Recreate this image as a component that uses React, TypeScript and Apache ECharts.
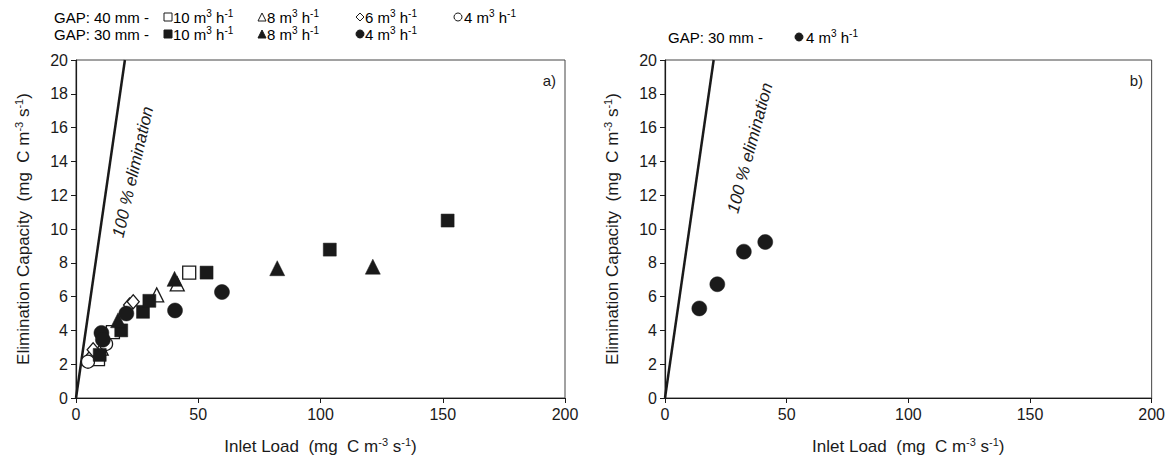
import React, { useEffect, useRef } from "react";
import * as echarts from "echarts";

// ---- data ----
const xTickValues = [0, 50, 100, 150, 200];
const yTickValues = [0, 2, 4, 6, 8, 10, 12, 14, 16, 18, 20];

const gap40Flow10 = [[9.0, 2.3], [15.1, 3.9], [46.3, 7.42]];
const gap40Flow8 = [[10.3, 2.95], [33.0, 6.1], [41.4, 6.75]];
const gap40Flow6 = [[5.6, 2.35], [7.0, 2.85], [21.9, 5.5], [23.4, 5.7]];
const gap40Flow4 = [[4.9, 2.15], [12.3, 3.2]];
const gap30Flow10 = [[9.7, 2.55], [18.5, 4.0], [27.4, 5.1], [30.0, 5.75], [53.4, 7.42], [103.8, 8.78], [152.0, 10.5]];
const gap30Flow8 = [[17.2, 4.6], [40.3, 7.05], [82.3, 7.68], [121.4, 7.77]];
const gap30Flow4 = [[10.4, 3.85], [11.0, 3.45], [20.6, 5.0], [40.5, 5.18], [59.7, 6.27]];
const panelBGap30Flow4 = [[14.1, 5.3], [21.5, 6.73], [32.4, 8.66], [41.2, 9.23]];
const fullEliminationLine = [[0, 0], [20, 20]];

const FONT = "'Liberation Sans', Arial, sans-serif";
const INK = "#1a1a1a";

const rich = {
  n: { fontSize: 17, fontFamily: FONT, color: INK, lineHeight: 20 },
  s: { fontSize: 11, fontFamily: FONT, color: INK, lineHeight: 11, verticalAlign: "top" as const },
};
const richSmall = {
  n: { fontSize: 15, fontFamily: FONT, color: INK, lineHeight: 17 },
  s: { fontSize: 10, fontFamily: FONT, color: INK, lineHeight: 10, verticalAlign: "top" as const },
};

const xName = "{n|Inlet Load  (mg  C m}{s|-3}{n| s}{s|-1}{n|)}";
const yName = "{n|Elimination Capacity  (mg  C m}{s|-3}{n| s}{s|-1}{n|)}";

function flowText(v: string) {
  return `{n|${v} m}{s|3}{n| h}{s|-1}`;
}

function legendText(x: number, y: number, text: string) {
  return {
    type: "text",
    x,
    y,
    style: { text, rich: richSmall, verticalAlign: "middle", align: "left" },
    z: 10,
  };
}

function marker(kind: string, cx: number, cy: number, filled: boolean) {
  const style = { fill: filled ? INK : "#fff", stroke: INK, lineWidth: 1 };
  const s = 4;
  if (kind === "square") return { type: "rect", shape: { x: cx - s, y: cy - s, width: 2 * s, height: 2 * s }, style, z: 10 };
  if (kind === "circle") return { type: "circle", shape: { cx, cy, r: s }, style, z: 10 };
  if (kind === "triangle")
    return { type: "polygon", shape: { points: [[cx, cy - s], [cx + s, cy + s], [cx - s, cy + s]] }, style, z: 10 };
  return { type: "polygon", shape: { points: [[cx, cy - s], [cx + s, cy], [cx, cy + s], [cx - s, cy]] }, style, z: 10 };
}

function makeX(gridIndex: number) {
  return {
    type: "value",
    gridIndex,
    min: xTickValues[0],
    max: xTickValues[xTickValues.length - 1],
    interval: 50,
    splitLine: { show: false },
    axisLine: { show: true, onZero: false, lineStyle: { color: INK, width: 1.2 } },
    axisTick: { show: true, inside: false, length: 5, lineStyle: { color: INK } },
    axisLabel: { fontSize: 16, fontFamily: FONT, color: INK, margin: 8 },
    name: xName,
    nameLocation: "middle",
    nameGap: 38,
    nameTextStyle: { rich },
  };
}

function makeY(gridIndex: number) {
  return {
    type: "value",
    gridIndex,
    min: yTickValues[0],
    max: yTickValues[yTickValues.length - 1],
    interval: 2,
    splitLine: { show: false },
    axisLine: { show: true, onZero: false, lineStyle: { color: INK, width: 1.2 } },
    axisTick: { show: true, inside: false, length: 5, lineStyle: { color: INK } },
    axisLabel: { fontSize: 16, fontFamily: FONT, color: INK, margin: 8 },
    name: yName,
    nameLocation: "middle",
    nameRotate: 90,
    nameGap: 43,
    nameTextStyle: { rich },
  };
}

const openStyle = { color: "#fff", borderColor: INK, borderWidth: 1.3, opacity: 1 };
const filledStyle = { color: INK, borderColor: INK, borderWidth: 0.5, opacity: 1 };

function scatter(name: string, data: number[][], symbol: string, size: number | number[], filled: boolean, idx: number, z: number) {
  return {
    type: "scatter",
    name,
    xAxisIndex: idx,
    yAxisIndex: idx,
    data,
    symbol,
    symbolSize: size,
    itemStyle: filled ? filledStyle : openStyle,
    z,
  };
}

export default function App() {
  const ref = useRef<HTMLDivElement>(null);
  useEffect(() => {
    if (!ref.current) return;
    const chart = echarts.init(ref.current, undefined, { renderer: "svg" });
    const lineSeries = (idx: number) => ({
      type: "line",
      xAxisIndex: idx,
      yAxisIndex: idx,
      data: fullEliminationLine,
      symbol: "none",
      lineStyle: { color: INK, width: 2.5 },
      z: 1,
    });
    const rad = (d: number) => (d * Math.PI) / 180;
    chart.setOption({
      animation: false,
      backgroundColor: "#fff",
      grid: [
        { left: 76, top: 60, width: 489, height: 338, show: true, borderColor: "#444", borderWidth: 1, backgroundColor: "transparent" },
        { left: 665, top: 60, width: 487, height: 338, show: true, borderColor: "#444", borderWidth: 1, backgroundColor: "transparent" },
      ],
      xAxis: [makeX(0), makeX(1)],
      yAxis: [makeY(0), makeY(1)],
      series: [
        lineSeries(0),
        lineSeries(1),
        scatter("GAP 40 mm - 10", gap40Flow10, "rect", 13, false, 0, 2),
        scatter("GAP 40 mm - 8", gap40Flow8, "triangle", 14, false, 0, 2),
        scatter("GAP 40 mm - 6", gap40Flow6, "diamond", [12, 14], false, 0, 2),
        scatter("GAP 40 mm - 4", gap40Flow4, "circle", 13, false, 0, 2),
        scatter("GAP 30 mm - 10", gap30Flow10, "rect", 13, true, 0, 3),
        scatter("GAP 30 mm - 8", gap30Flow8, "triangle", 15, true, 0, 3),
        scatter("GAP 30 mm - 4", gap30Flow4, "circle", 15, true, 0, 3),
        scatter("b GAP 30 mm - 4", panelBGap30Flow4, "circle", 15, true, 1, 3),
      ],
      graphic: [
        // 100 % elimination labels
        {
          type: "text",
          x: 133,
          y: 172,
          rotation: rad(77),
          style: { text: "100 % elimination", font: `italic 17px ${FONT}`, fill: INK, align: "center", verticalAlign: "middle" },
          z: 10,
        },
        {
          type: "text",
          x: 750,
          y: 148,
          rotation: rad(75),
          style: { text: "100 % elimination", font: `italic 17px ${FONT}`, fill: INK, align: "center", verticalAlign: "middle" },
          z: 10,
        },
        // panel tags
        { type: "text", x: 556, y: 80, style: { text: "a)", font: `15px ${FONT}`, fill: INK, align: "right", verticalAlign: "middle" }, z: 10 },
        { type: "text", x: 1143, y: 80, style: { text: "b)", font: `15px ${FONT}`, fill: INK, align: "right", verticalAlign: "middle" }, z: 10 },
        // legend panel a, row 1
        legendText(54, 17, "{n|GAP: 40 mm - }"),
        marker("square", 168, 17, false),
        legendText(173, 17, flowText("10")),
        marker("triangle", 262, 17, false),
        legendText(267, 17, flowText("8")),
        marker("diamond", 360, 17, false),
        legendText(365, 17, flowText("6")),
        marker("circle", 458, 17, false),
        legendText(464, 17, flowText("4")),
        // legend panel a, row 2
        legendText(54, 34, "{n|GAP: 30 mm - }"),
        marker("square", 168, 34, true),
        legendText(173, 34, flowText("10")),
        marker("triangle", 262, 34, true),
        legendText(267, 34, flowText("8")),
        marker("circle", 360, 34, true),
        legendText(365, 34, flowText("4")),
        // legend panel b
        legendText(668, 37, "{n|GAP: 30 mm - }"),
        marker("circle", 799, 37, true),
        legendText(806, 37, flowText("4")),
      ],
    });
    return () => chart.dispose();
  }, []);
  return <div ref={ref} style={{ position: "fixed", left: 0, top: 0, width: 1168, height: 464, background: "#fff" }} />;
}
